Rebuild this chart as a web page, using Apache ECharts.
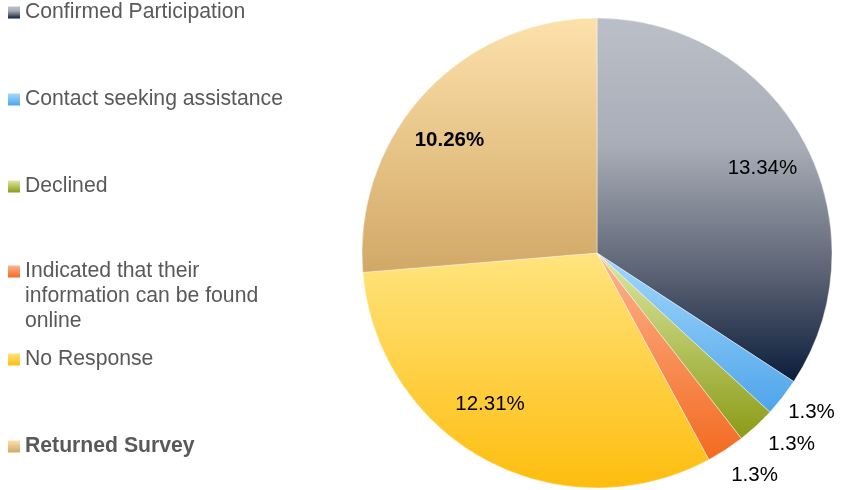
<!DOCTYPE html>
<html>
<head>
<meta charset="utf-8">
<script src="https://cdn.jsdelivr.net/npm/echarts@6/dist/echarts.min.js"></script>
<style>
html,body{margin:0;padding:0;background:#fff;}
#chart{width:841px;height:490px;}
</style>
</head>
<body>
<div id="chart"></div>
<script>
// ---- data ----
var categories = [
  'Confirmed Participation',
  'Contact seeking assistance',
  'Declined',
  'Indicated that their information can be found online',
  'No Response',
  'Returned Survey'
];
var values = [13, 1, 1, 1, 12, 10];
var sliceLabels = ['13.34%', '1.3%', '1.3%', '1.3%', '12.31%', '10.26%'];
var legendLines = [
  'Confirmed Participation',
  'Contact seeking assistance',
  'Declined',
  'Indicated that their\ninformation can be found\nonline',
  'No Response',
  'Returned Survey'
];
var labelInsideFlags = [true, false, false, false, true, true];
var labelBold = [false, false, false, false, false, true];

// ---- styles ----
var labelNudge = [[1, 4], [3, -5], [13, -6], [11, -2], [-18, -13], [-10, 14]];
var gradStops = [
  [[0, '#bbbfc8'], [0.35, '#a9adb7'], [0.7, '#5c6374'], [1, '#0b1d3b']],
  [[0, '#a3d9fd'], [1, '#4ea4ea']],
  [[0, '#dfe8a6'], [1, '#8a9c16']],
  [[0, '#fdb490'], [1, '#f36a20']],
  [[0, '#ffe47e'], [1, '#febd0e']],
  [[0, '#fde1ab'], [1, '#d1a866']]
];
function grad(i) {
  return {
    type: 'linear', x: 0, y: 0, x2: 0, y2: 1,
    colorStops: gradStops[i].map(function (s) { return { offset: s[0], color: s[1] }; })
  };
}
var FONT = '"Liberation Sans", Arial, sans-serif';
var center = [597, 253];
var R = 235;

var mainData = categories.map(function (c, i) {
  return { name: c, value: values[i], itemStyle: { color: grad(i) } };
});
function overlayData(inside) {
  return categories.map(function (c, i) {
    var show = labelInsideFlags[i] === inside;
    return {
      name: c, value: values[i],
      itemStyle: { color: 'rgba(0,0,0,0)' },
      label: {
        show: show,
        formatter: sliceLabels[i],
        offset: labelNudge[i],
        fontWeight: labelBold[i] ? 'bold' : 'normal'
      }
    };
  });
}

// legend text: multi-line entries get blank lines above so the icon sits on the first line
function legendText(i) {
  var lines = legendLines[i].split('\n');
  var pre = [];
  for (var k = 1; k < lines.length; k++) pre.push(' ');
  return pre.concat(lines).join('\n');
}
var legendCenters = [12.5, 99.5, 186.5, 271.5, 359.5, 446.5];
var LH = 25;
var legends = categories.map(function (c, i) {
  var n = legendText(i).split('\n').length;
  var boxH = n * LH;
  return {
    orient: 'vertical',
    left: 8,
    top: legendCenters[i] - boxH / 2,
    padding: 0,
    itemWidth: 12,
    itemHeight: 12,
    icon: 'rect',
    selectedMode: false,
    itemStyle: { borderWidth: 0 },
    formatter: function () { return legendText(i); },
    textStyle: {
      color: '#595959',
      fontSize: 21.2,
      fontFamily: FONT,
      lineHeight: LH,
      fontWeight: labelBold[i] ? 'bold' : 'normal'
    },
    data: [c]
  };
});

var chart = echarts.init(document.getElementById('chart'), null, { renderer: 'canvas' });
chart.setOption({
  animation: false,
  backgroundColor: '#ffffff',
  legend: legends,
  series: [
    {
      type: 'pie',
      center: center,
      radius: R,
      startAngle: 90,
      clockwise: true,
      silent: true,
      label: { show: false },
      labelLine: { show: false },
      itemStyle: { borderColor: 'rgba(255,255,255,0.7)', borderWidth: 0.6 },
      data: mainData
    },
    {
      type: 'pie',
      center: center,
      radius: [0, 2 * 184],
      startAngle: 90,
      clockwise: true,
      silent: true,
      z: 5,
      label: { position: 'inside', color: '#000', fontSize: 20.5, fontFamily: FONT },
      labelLine: { show: false },
      data: overlayData(true)
    },
    {
      type: 'pie',
      center: center,
      radius: [0, 2 * 265],
      startAngle: 90,
      clockwise: true,
      silent: true,
      z: 5,
      label: { position: 'inside', color: '#000', fontSize: 20.5, fontFamily: FONT },
      labelLine: { show: false },
      data: overlayData(false)
    }
  ]
});
</script>
</body>
</html>
